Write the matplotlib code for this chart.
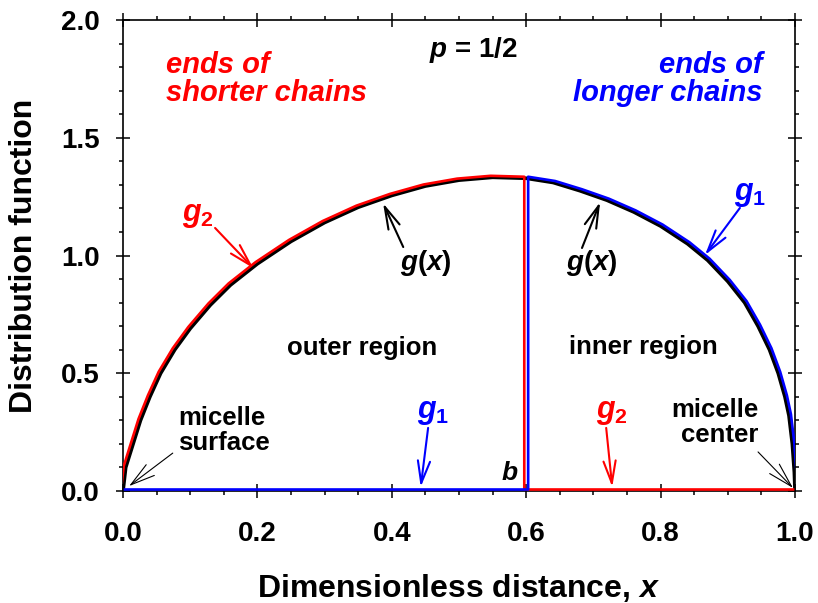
import matplotlib
matplotlib.use('Agg')
import matplotlib.pyplot as plt
from matplotlib.transforms import offset_copy
from matplotlib.ticker import MultipleLocator

plt.rcParams['font.family'] = ['Liberation Sans', 'DejaVu Sans']
plt.rcParams['font.weight'] = 'bold'
plt.rcParams['axes.labelweight'] = 'bold'
plt.rcParams['mathtext.fontset'] = 'custom'
plt.rcParams['mathtext.rm'] = 'Liberation Sans:bold'
plt.rcParams['mathtext.it'] = 'Liberation Sans:bold:italic'
plt.rcParams['mathtext.bf'] = 'Liberation Sans:bold'

# values
b = 0.6
x_outer = [0.0, 0.004, 0.015, 0.026, 0.040, 0.056, 0.077, 0.10, 0.13, 0.16, 0.20,
           0.25, 0.30, 0.35, 0.40, 0.45, 0.50, 0.55, 0.60]
g_outer = [0.0, 0.10, 0.20, 0.30, 0.40, 0.50, 0.60, 0.69, 0.79, 0.875, 0.965,
           1.06, 1.14, 1.205, 1.255, 1.295, 1.32, 1.332, 1.328]
x_inner = [0.60, 0.64, 0.68, 0.72, 0.76, 0.80, 0.84, 0.87, 0.90, 0.925, 0.945,
           0.962, 0.975, 0.985, 0.991, 0.996, 0.999, 1.0]
g_inner = [1.328, 1.31, 1.275, 1.235, 1.185, 1.125, 1.05, 0.98, 0.89, 0.80, 0.70,
           0.60, 0.50, 0.40, 0.32, 0.20, 0.08, 0.0]

x_g = x_outer + x_inner[1:]
g_all = g_outer + g_inner[1:]
x_g2 = x_outer + [b, 1.0]
y_g2 = g_outer + [0.0, 0.0]
x_g1 = [0.0, b] + x_inner
y_g1 = [0.0, 0.0] + g_inner

fig = plt.figure(figsize=(8.18, 6.03), dpi=100)
ax = fig.add_axes([0.1504, 0.1857, 0.8215, 0.7811])

ax.plot(x_g, g_all, color='black', lw=2.6, zorder=2, solid_joinstyle='round')
red_tr = offset_copy(ax.transData, fig=fig, x=-1.4, y=1.1, units='points')
blue_tr = offset_copy(ax.transData, fig=fig, x=1.4, y=1.1, units='points')
ax.plot(x_g2, y_g2, color='#ff0000', lw=1.9, transform=red_tr, zorder=3)
ax.plot(x_g1, y_g1, color='#0000ff', lw=1.9, transform=blue_tr, zorder=3)

ax.set_xlim(0, 1)
ax.set_ylim(0, 2)
ax.xaxis.set_major_locator(MultipleLocator(0.2))
ax.xaxis.set_minor_locator(MultipleLocator(0.05))
ax.yaxis.set_major_locator(MultipleLocator(0.5))
ax.yaxis.set_minor_locator(MultipleLocator(0.1))
ax.tick_params(which='both', top=True, right=True, width=1.1, labelsize=20)
ax.tick_params(which='major', direction='inout', length=9.4)
ax.tick_params(axis='x', which='major', pad=17)
ax.tick_params(axis='y', which='major', pad=12)
ax.tick_params(which='minor', direction='out', length=3)
for s in ax.spines.values():
    s.set_linewidth(1.2)

ax.set_xlabel('Dimensionless distance, $x$', fontsize=23, labelpad=18)
ax.set_ylabel('Distribution function', fontsize=23, labelpad=16)

# labels
ax.text(0.064, 1.75, 'ends of\nshorter chains', color='#ff0000', fontsize=21,
        style='italic', ha='left', va='center', linespacing=1.0)
ax.text(0.952, 1.75, 'ends of\nlonger chains', color='#0000ff', fontsize=21,
        style='italic', ha='right', va='center', linespacing=1.0)
ax.text(0.521, 1.873, '$p$ = 1/2', fontsize=20, ha='center', va='center')
ax.text(0.356, 0.607, 'outer region', fontsize=18.5, ha='center', va='center')
ax.text(0.775, 0.611, 'inner region', fontsize=18.5, ha='center', va='center')
ax.text(0.082, 0.259, 'micelle\nsurface', fontsize=18.5, ha='left', va='center', linespacing=1.05)
ax.text(0.945, 0.289, 'micelle\ncenter', fontsize=18.5, ha='right', va='center',
        linespacing=1.05, multialignment='right')
ax.text(0.576, 0.076, '$b$', fontsize=19, ha='center', va='center')

arrow_style = '->, head_length=0.8, head_width=0.22'

def arrow(tip, tail, color, lw=1.5, ms=20):
    ax.annotate('', xy=tip, xytext=tail,
                arrowprops=dict(arrowstyle=arrow_style, color=color, lw=lw,
                                shrinkA=0, shrinkB=0, mutation_scale=ms))

ax.text(0.111, 1.17, '$g_2$', color='#ff0000', fontsize=22, ha='center', va='center')
arrow((0.194, 0.946), (0.137, 1.117), '#ff0000')
ax.text(0.451, 0.968, '$g(x)$', fontsize=20, ha='center', va='center')
arrow((0.387, 1.222), (0.417, 1.036), 'black')
ax.text(0.698, 0.968, '$g(x)$', fontsize=20, ha='center', va='center')
arrow((0.710, 1.227), (0.683, 1.032), 'black')
ax.text(0.933, 1.261, '$g_1$', color='#0000ff', fontsize=22, ha='center', va='center')
arrow((0.866, 1.002), (0.918, 1.202), '#0000ff')
ax.text(0.461, 0.335, '$g_1$', color='#0000ff', fontsize=22, ha='center', va='center')
arrow((0.443, 0.017), (0.454, 0.268), '#0000ff')
ax.text(0.728, 0.335, '$g_2$', color='#ff0000', fontsize=22, ha='center', va='center')
arrow((0.728, 0.017), (0.719, 0.268), '#ff0000')
arrow((0.009, 0.021), (0.074, 0.161), 'black', lw=0.8, ms=22)
arrow((0.997, 0.013), (0.945, 0.166), 'black', lw=0.8, ms=22)

fig.savefig('out.png', dpi=100)
